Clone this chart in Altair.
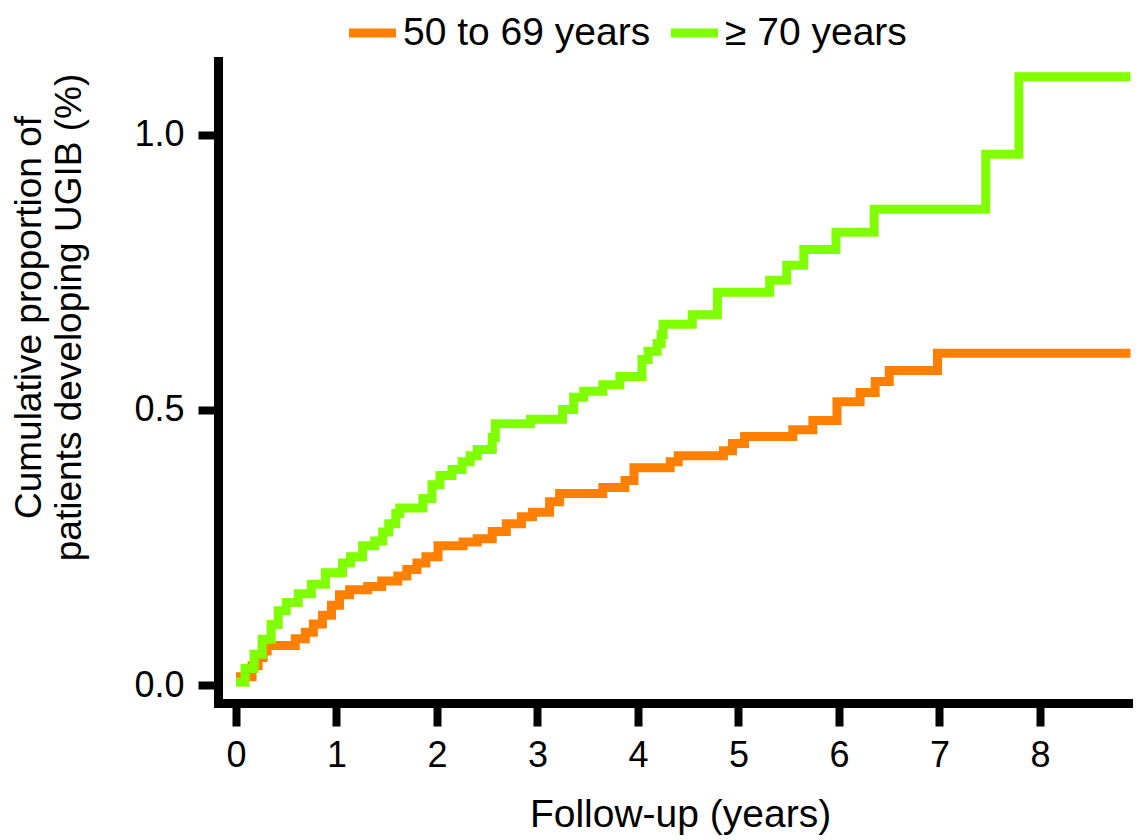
import altair as alt
import pandas as pd

groups = ["50 to 69 years", "≥ 70 years"]
colors = ["#FF8000", "#80FF00"]

t_50_69 = [0.0, 0.16, 0.22, 0.27, 0.31, 0.59, 0.69, 0.77, 0.86, 0.95, 1.03, 1.13, 1.31, 1.45,
           1.61, 1.70, 1.80, 1.89, 2.01, 2.26, 2.40, 2.55, 2.69, 2.84, 2.95, 3.12, 3.22, 3.65,
           3.87, 3.96, 4.32, 4.40, 4.85, 4.94, 5.06, 5.54, 5.74, 5.98, 6.21, 6.36, 6.50, 6.98, 8.90]
v_50_69 = [0.015, 0.035, 0.05, 0.062, 0.072, 0.084, 0.096, 0.111, 0.127, 0.145, 0.164, 0.173,
           0.179, 0.189, 0.198, 0.21, 0.222, 0.233, 0.253, 0.26, 0.266, 0.279, 0.293, 0.306,
           0.314, 0.333, 0.348, 0.359, 0.372, 0.395, 0.406, 0.417, 0.426, 0.439, 0.452, 0.464,
           0.481, 0.515, 0.532, 0.552, 0.572, 0.603, 0.603]

t_70 = [0.0, 0.09, 0.18, 0.26, 0.35, 0.42, 0.50, 0.62, 0.75, 0.89, 1.06, 1.14, 1.26, 1.38,
        1.46, 1.52, 1.59, 1.63, 1.86, 1.95, 2.03, 2.15, 2.25, 2.33, 2.40, 2.55, 2.58, 2.93,
        3.25, 3.36, 3.46, 3.65, 3.82, 4.04, 4.10, 4.19, 4.23, 4.25, 4.54, 4.79, 5.31, 5.48,
        5.65, 5.97, 6.35, 7.46, 7.79, 8.90]
v_70 = [0.005, 0.03, 0.056, 0.083, 0.11, 0.135, 0.15, 0.166, 0.183, 0.204, 0.222, 0.233,
        0.253, 0.262, 0.278, 0.293, 0.312, 0.322, 0.339, 0.364, 0.381, 0.392, 0.406, 0.417,
        0.428, 0.45, 0.475, 0.483, 0.501, 0.523, 0.534, 0.546, 0.561, 0.592, 0.607, 0.621,
        0.637, 0.656, 0.673, 0.714, 0.736, 0.763, 0.792, 0.823, 0.865, 0.965, 1.106, 1.106]

x_ticks = [0, 1, 2, 3, 4, 5, 6, 7, 8]
y_ticks = [0.0, 0.5, 1.0]

rows = []
for t, v in zip(t_50_69, v_50_69):
    rows.append({"t": t, "v": v, "g": groups[0]})
for t, v in zip(t_70, v_70):
    rows.append({"t": t, "v": v, "g": groups[1]})
df = pd.DataFrame(rows)

FONT = "Liberation Sans"

chart = alt.Chart(df).mark_line(
    interpolate="step-after", strokeWidth=9, strokeJoin="miter", strokeCap="butt"
).encode(
    x=alt.X(
        "t:Q",
        scale=alt.Scale(domain=[-0.1791, 8.9254], nice=False, zero=False),
        axis=alt.Axis(
            values=x_ticks, format="d", title="Follow-up (years)",
            tickSize=23, labelPadding=12, labelFontSize=36, labelFlush=False,
            titleFontSize=39, titleX=462, titleY=123, titleBaseline="alphabetic",
            titleAlign="center",
        ),
    ),
    y=alt.Y(
        "v:Q",
        scale=alt.Scale(domain=[-0.0327, 1.1345], nice=False, zero=False),
        axis=alt.Axis(
            values=y_ticks, format=".1f",
            title=["Cumulative proportion of", "patients developing UGIB (%)"],
            tickSize=20, labelPadding=14, labelFontSize=36, labelFlush=False,
            titleFontSize=37, titleX=-178, titleY=256, titleBaseline="alphabetic",
            titleAlign="center", titleLineHeight=40, titleAngle=270,
        ),
    ),
    color=alt.Color(
        "g:N",
        scale=alt.Scale(domain=groups, range=colors),
        legend=alt.Legend(
            title=None, orient="none", direction="horizontal", legendX=126.5, legendY=-56,
            symbolType="stroke", symbolSize=2209, symbolStrokeWidth=9,
            labelFontSize=39, labelOffset=2.5, columnPadding=2, labelLimit=500,
            labelFont=FONT, labelColor="black",
        ),
    ),
).properties(
    width=915,
    height=642,
    padding={"left": 210, "top": 53, "right": 0, "bottom": 133},
    autosize=alt.AutoSizeParams(type="none"),
).configure_view(
    strokeOpacity=0
).configure_axis(
    grid=False,
    domainColor="black", domainWidth=9, domainCap="square",
    tickColor="black", tickWidth=8,
    labelColor="black", titleColor="black",
    labelFont=FONT, titleFont=FONT, titleFontWeight="normal",
)

chart.save("out.html", embed_options={"renderer": "svg", "actions": False})
